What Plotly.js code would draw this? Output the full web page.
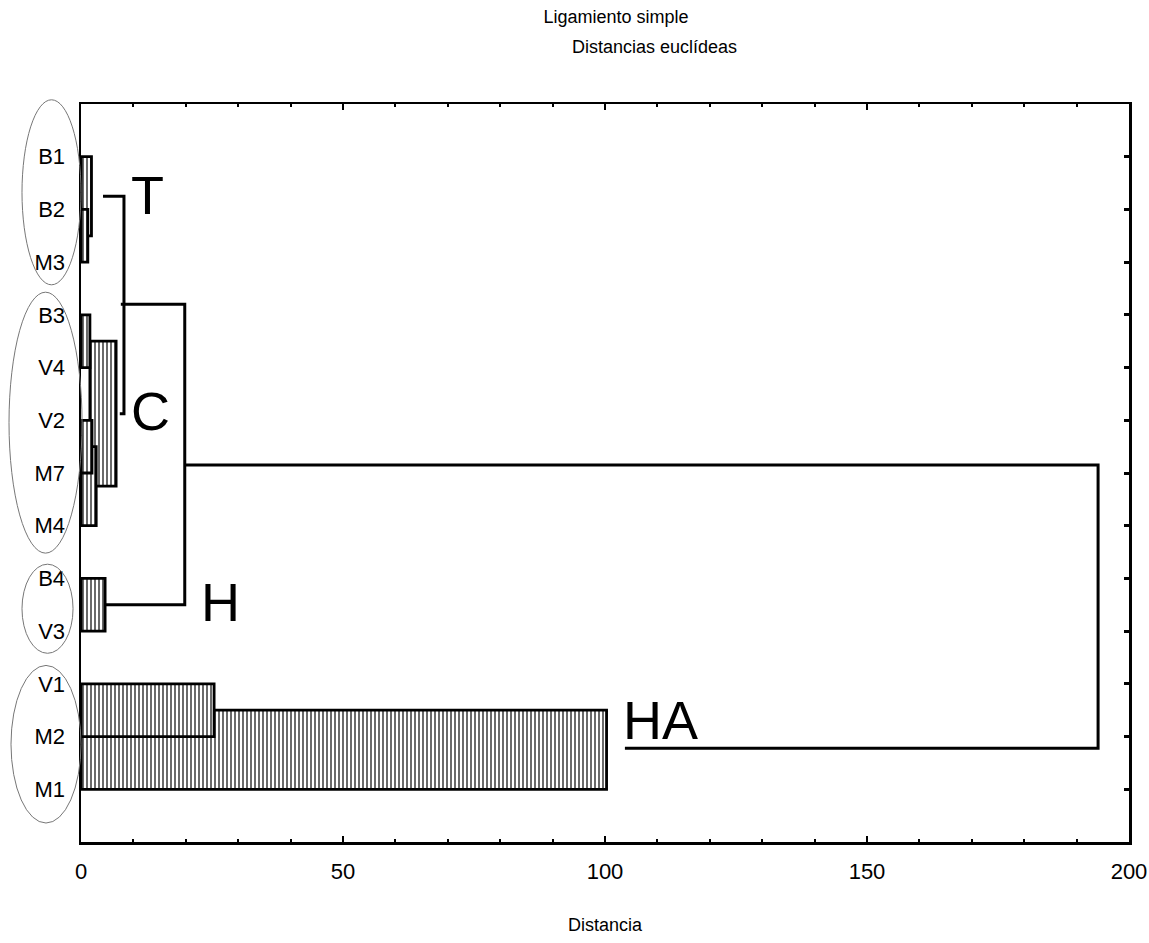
<!DOCTYPE html>
<html><head><meta charset="utf-8">
<script src="https://cdn.plot.ly/plotly-3.0.1.min.js"></script>
<style>html,body{margin:0;padding:0;background:#fff}</style>
</head><body><div id="chart" style="width:1149px;height:943px"></div>
<script>
// ---- data ----
const leafLabels = ['B1','B2','M3','B3','V4','V2','M7','M4','B4','V3','V1','M2','M1'];
const leafPos = [1,2,3,4,5,6,7,8,9,10,11,12,13];
const posRange = [14, 0];

// hatched linkage boxes: distance from/to, leaf-position from/to
const boxDistFrom = [0, 0, 0, 0, 1.7, 0, 0, 0, 0];
const boxDistTo   = [100.3, 25.4, 2.0, 1.3, 6.7, 1.7, 2.9, 2.1, 4.6];
const boxPosFrom  = [11.5, 11, 1, 2, 4.5, 4, 6.5, 6, 9];
const boxPosTo    = [13, 12, 2.5, 3, 7.25, 5, 8, 7, 10];

// connecting lines
const linkT_dist = [4.2, 8.2, 8.2, 7.4];
const linkT_pos  = [1.75, 1.75, 5.875, 5.875];
const linkH_dist = [7.6, 19.8, 19.8, 4.6];
const linkH_pos  = [3.8, 3.8, 9.5, 9.5];
const linkRoot_dist = [19.8, 194.1, 194.1, 103.8];
const linkRoot_pos  = [6.85, 6.85, 12.22, 12.22];

// cluster labels
const clusterNames = ['T','C','H','HA'];
const clusterDist  = [12.6, 13.2, 26.7, 110.5];
const clusterPos   = [1.73, 5.83, 9.45, 11.69];

// group ellipses (leaf-position span)
const groupPosFrom = [-0.08, 3.57, 8.73, 10.65];
const groupPosTo   = [3.43, 8.52, 10.42, 13.64];
const groupX0 = [-0.0563, -0.0687, -0.0563, -0.0668];
const groupX1 = [0, 0.001, -0.0076, 0];

const FONT = '"Liberation Sans", Arial, Helvetica, sans-serif';

const traces = [];
traces.push({
  type: 'bar', orientation: 'h',
  y: boxPosFrom.map((p, i) => (p + boxPosTo[i]) / 2),
  width: boxPosFrom.map((p, i) => boxPosTo[i] - p),
  base: boxDistFrom,
  x: boxDistTo.map((d, i) => d - boxDistFrom[i]),
  marker: {
    color: 'white',
    line: {color: 'black', width: 2.8},
    pattern: {shape: '|', size: 4, solidity: 0.4, fgcolor: '#444', bgcolor: 'white'}
  },
  hoverinfo: 'skip', showlegend: false
});
[[linkT_dist, linkT_pos], [linkH_dist, linkH_pos], [linkRoot_dist, linkRoot_pos]].forEach(([d, p]) => {
  traces.push({type: 'scatter', mode: 'lines', x: d, y: p,
    line: {color: 'black', width: 3}, hoverinfo: 'skip', showlegend: false});
});
traces.push({type: 'scatter', mode: 'markers', x: [null], y: [null], yaxis: 'y2', showlegend: false, hoverinfo: 'skip'});

const annotations = clusterNames.map((t, i) => ({
  text: t, x: clusterDist[i], y: clusterPos[i], xref: 'x', yref: 'y',
  showarrow: false, xanchor: 'center', yanchor: 'middle',
  font: {family: FONT, size: 54, color: 'black'}
}));
annotations.push({
  text: 'Distancias euclídeas', xref: 'paper', yref: 'paper',
  x: (654 - 81) / 1048, y: (842 - 47) / 738, xanchor: 'center', yanchor: 'middle',
  showarrow: false, font: {family: FONT, size: 18, color: 'black'}
});

// ellipses drawn in paper space (not clipped), converted from leaf positions
const toPaper = p => (posRange[0] - p) / (posRange[0] - posRange[1]);
const shapes = groupPosFrom.map((p, i) => ({
  type: 'circle', xref: 'paper', yref: 'paper',
  x0: groupX0[i], x1: groupX1[i], y0: toPaper(p), y1: toPaper(groupPosTo[i]),
  line: {color: '#777', width: 1}, layer: 'above'
}));

const layout = {
  width: 1149, height: 943,
  margin: {l: 81, r: 20, t: 104, b: 101, pad: 0},
  paper_bgcolor: 'white', plot_bgcolor: 'white',
  showlegend: false, barmode: 'overlay',
  font: {family: FONT, color: 'black'},
  title: {text: 'Ligamiento simple', xref: 'container', yref: 'container',
    x: 616 / 1149, xanchor: 'center', y: 1 - 17 / 943, yanchor: 'middle',
    font: {family: FONT, size: 18, color: 'black'}},
  xaxis: {
    range: [0, 200], tick0: 0, dtick: 50, ticks: 'inside', ticklen: 6, tickwidth: 2, tickcolor: 'black',
    mirror: 'ticks', showline: true, linewidth: 2.5, linecolor: 'black',
    showgrid: false, zeroline: false, tickfont: {family: FONT, size: 22},
    ticklabelstandoff: 8, ticklabeloverflow: 'allow',
    minor: {dtick: 10, ticks: 'inside', ticklen: 3, tickwidth: 2, tickcolor: 'black', showgrid: false},
    title: {text: 'Distancia', font: {family: FONT, size: 18}, standoff: 36}
  },
  yaxis: {
    range: posRange, tickvals: leafPos, ticktext: leafLabels, ticks: '',
    showline: true, linewidth: 2.5, linecolor: 'black', showgrid: false, zeroline: false,
    tickfont: {family: FONT, size: 22}, ticklabelstandoff: 9
  },
  yaxis2: {
    overlaying: 'y', side: 'right', range: posRange, tickvals: leafPos,
    ticks: 'inside', ticklen: 5, tickwidth: 3, tickcolor: 'black', showticklabels: false,
    showline: true, linewidth: 2.5, linecolor: 'black', showgrid: false, zeroline: false
  },
  annotations: annotations,
  shapes: shapes
};

Plotly.newPlot('chart', traces, layout, {displayModeBar: false, staticPlot: true});
</script></body></html>
